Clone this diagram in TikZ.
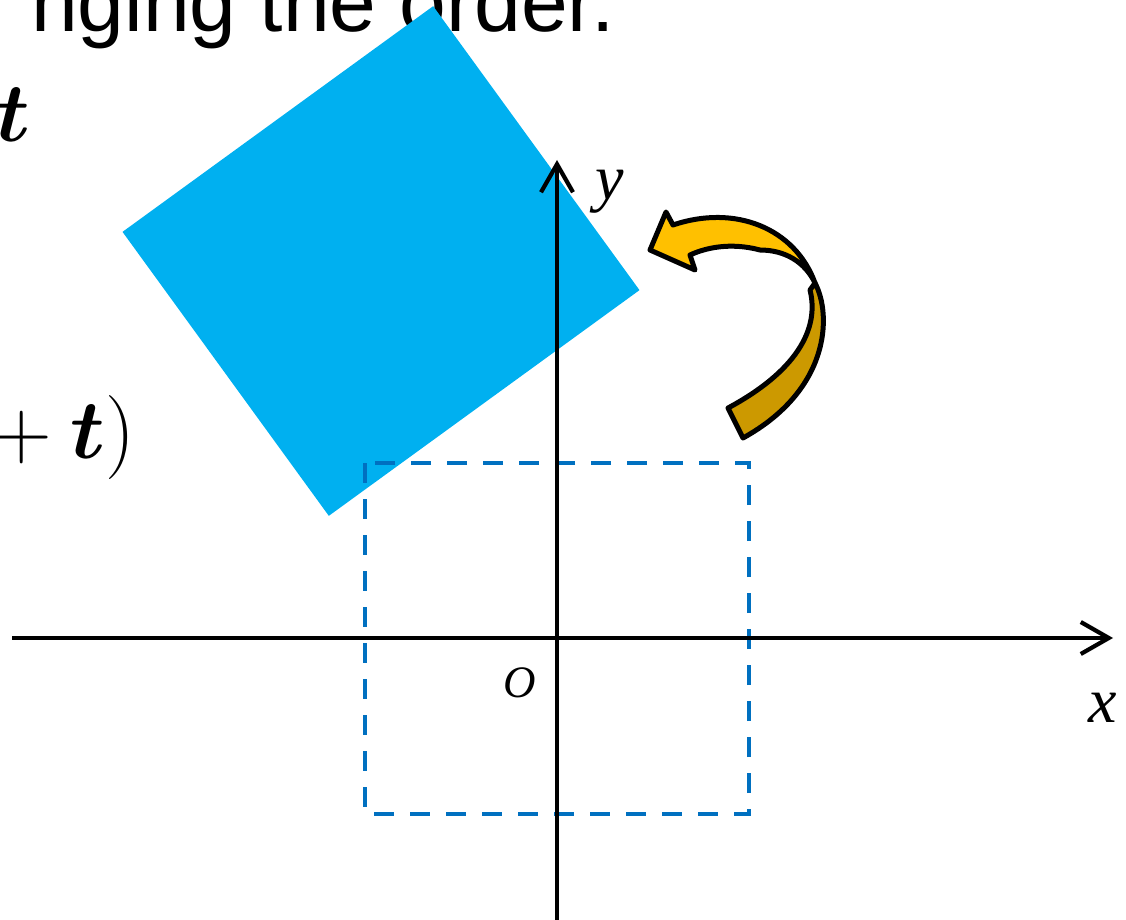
\RequirePackage{fix-cm}
\documentclass[tikz,border=0pt]{standalone}
\usepackage{amsmath}
\usepackage{amssymb}
\usepackage{fontspec}
\usepackage{tikz}
\usetikzlibrary{arrows, arrows.meta}
\newfontfamily\slidefont{Liberation Sans}
\newfontfamily\axisfont{Liberation Serif}
\definecolor{sqblue}{HTML}{00B0F0}
\definecolor{dashblue}{HTML}{0070C0}
\definecolor{ribbonyellow}{HTML}{FFC000}
\definecolor{ribbongold}{HTML}{CC9900}
\tikzset{axisline/.style = {line width = 4.2pt, -{Straight Barb[length = 28pt, width = 32pt]}}}
\tikzset{axisname/.style = {font = \axisfont\itshape\fontsize{64}{70}\selectfont, inner sep = 0pt, anchor = base west}}
\tikzset{textline/.style = {inner sep = 0pt, anchor = base east}}
\tikzset{dashedbox/.style = {draw = dashblue, line width = 4.5pt, dash pattern = on 20pt off 16pt}}
\tikzset{ribbon/.style = {draw = black, line width = 5pt, line join = round}}

\begin{document}
\begin{tikzpicture}[x = 1pt, y = -1pt]
				\useasboundingbox (0, 0) rectangle (1126, 920);
				\clip (0, 0) rectangle (1126, 920);

				% text of the slide, cut by the frame
				\node[textline, font = \slidefont\fontsize{84}{100}\selectfont] (order) at (615, 32) {nging the order.};
				\node[textline, font = \fontsize{84}{100}\selectfont] (tvec) at (31, 142) {$\boldsymbol{t}$};
				\node[textline, font = \fontsize{84}{100}\selectfont] (sumt) at (135, 458) {${}+\boldsymbol{t})$};

				% rotated and moved square
				\fill[sqblue, shift = {(381, 261)}, rotate = 36] (-192, -175.5) rectangle (192, 175.5);

				% square before the move
				\draw[dashedbox] (365, 463) rectangle (749, 814);

				% axes
				\coordinate (xstart) at (12, 638);
				\coordinate (xend) at (1113, 638);
				\coordinate (ystart) at (557, 925);
				\coordinate (yend) at (557, 160);
				\draw[axisline] (xstart) to (xend);
				\draw[axisline] (ystart) to (yend);

				\node[axisname] (xname) at (1088, 722) {x};
				\node[axisname] (yname) at (595, 199) {y};
				\node[axisname, font = \axisfont\itshape\fontsize{45}{50}\selectfont] (oname) at (503, 697) {O};

				% turning arrow
				\draw[ribbon, fill = ribbongold] (815, 283) .. controls (832, 315) and (830, 390) .. (743, 438)
					-- (728, 408) .. controls (795, 372) and (820, 330) .. (810, 290) -- cycle;
				\draw[ribbon, fill = ribbonyellow] (650, 250) -- (666, 212) -- (673, 225)
					.. controls (735, 204) and (795, 228) .. (815, 283)
					.. controls (805, 262) and (785, 250) .. (760, 250)
					.. controls (730, 242) and (705, 248) .. (690, 255) -- (695, 270) -- cycle;
			\end{tikzpicture}
\end{document}
